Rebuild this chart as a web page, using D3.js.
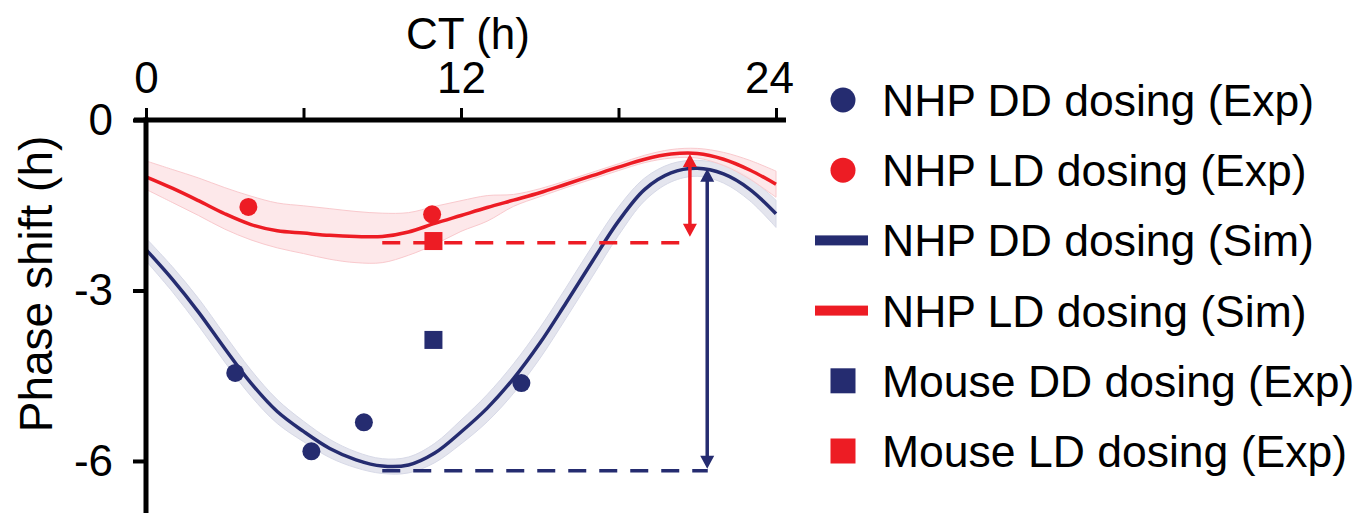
<!DOCTYPE html>
<html>
<head>
<meta charset="utf-8">
<script src="https://cdn.jsdelivr.net/npm/d3@7/dist/d3.min.js"></script>
<style>
  body { margin: 0; background: #fff; }
  text { font-family: "Liberation Sans", Arial, sans-serif; fill: #000; }
</style>
</head>
<body>
<svg width="1358" height="513"></svg>
<script>
// CT hours where the simulated curves were read off
var ctHours = [0, 1, 2, 3, 4, 5, 6, 7, 8, 9, 10, 11, 12, 13, 14, 15, 16, 17, 18, 19, 20, 21, 22, 23, 24];

// NHP DD dosing (Sim) with its band edges
var ddSim = [-2.28, -2.80, -3.38, -4.02, -4.63, -5.13, -5.48, -5.78, -5.98, -6.09, -6.07, -5.86, -5.49,
             -5.07, -4.55, -3.93, -3.22, -2.49, -1.78, -1.22, -0.93, -0.85, -0.95, -1.22, -1.65];
var ddHi  = [-2.08, -2.58, -3.14, -3.78, -4.40, -4.92, -5.30, -5.62, -5.84, -5.96, -5.93, -5.69, -5.28,
             -4.83, -4.29, -3.66, -2.95, -2.22, -1.53, -1.02, -0.77, -0.71, -0.79, -1.02, -1.41];
var ddLo  = [-2.48, -3.02, -3.62, -4.26, -4.86, -5.34, -5.66, -5.94, -6.12, -6.22, -6.21, -6.03, -5.70,
             -5.31, -4.81, -4.20, -3.49, -2.76, -2.03, -1.42, -1.09, -0.99, -1.11, -1.42, -1.89];

// NHP LD dosing (Sim) with its band edges
var ldSim = [-1.00, -1.20, -1.42, -1.65, -1.84, -1.95, -1.99, -2.03, -2.05, -2.05, -1.97, -1.82, -1.68,
             -1.54, -1.41, -1.28, -1.13, -0.98, -0.83, -0.69, -0.60, -0.59, -0.69, -0.88, -1.13];
var ldHi  = [-0.72, -0.87, -1.02, -1.19, -1.34, -1.46, -1.51, -1.56, -1.61, -1.64, -1.63, -1.52, -1.42,
             -1.33, -1.31, -1.21, -1.07, -0.92, -0.77, -0.62, -0.52, -0.50, -0.57, -0.71, -0.90];
var ldLo  = [-1.22, -1.45, -1.68, -1.92, -2.11, -2.25, -2.35, -2.45, -2.51, -2.51, -2.38, -2.19, -1.96,
             -1.78, -1.52, -1.35, -1.19, -1.04, -0.89, -0.75, -0.67, -0.67, -0.80, -1.04, -1.36];

// experiments
var nhpDD = [{ct: 3.4, shift: -4.45}, {ct: 6.3, shift: -5.83}, {ct: 8.3, shift: -5.32}, {ct: 14.3, shift: -4.63}];
var nhpLD = [{ct: 3.9, shift: -1.53}, {ct: 10.9, shift: -1.66}];
var mouseDD = [{ct: 10.95, shift: -3.87}];
var mouseLD = [{ct: 10.95, shift: -2.13}];

// amplitude marks: dashed trough level + arrow up to the peak
var ldAmp = {from: 9.0, to: 20.4, arrowAt: 20.72, peak: -0.6, trough: -2.16};
var ddAmp = {from: 9.0, to: 21.4, arrowAt: 21.38, peak: -0.86, trough: -6.17};

var xTicks = [0, 6, 12, 18, 24];
var xLabels = [0, 12, 24];
var yTicks = [0, -3, -6];

var legendLabels = ["NHP DD dosing (Exp)", "NHP LD dosing (Exp)", "NHP DD dosing (Sim)",
                    "NHP LD dosing (Sim)", "Mouse DD dosing (Exp)", "Mouse LD dosing (Exp)"];
var legendKinds = ["circle", "circle", "line", "line", "square", "square"];

var navy = "#252c70", red = "#ed1c24";
var legendColors = [navy, red, navy, red, navy, red];

var svg = d3.select("svg");

var x = d3.scaleLinear().domain([0, 24]).range([146, 776]),
    y = d3.scaleLinear().domain([0, -7]).range([120, 517.8]);

var dd = ctHours.map(function(h, i) { return {ct: h, v: ddSim[i], lo: ddLo[i], hi: ddHi[i]}; });
var ld = ctHours.map(function(h, i) { return {ct: h, v: ldSim[i], lo: ldLo[i], hi: ldHi[i]}; });

var band = d3.area()
    .curve(d3.curveCatmullRom.alpha(0.5))
    .x(function(d) { return x(d.ct); })
    .y0(function(d) { return y(d.lo); })
    .y1(function(d) { return y(d.hi); });

var line = d3.line()
    .curve(d3.curveCatmullRom.alpha(0.5))
    .x(function(d) { return x(d.ct); })
    .y(function(d) { return y(d.v); });

svg.append("path").datum(dd).attr("d", band)
    .attr("fill", "#e4e5ee").attr("stroke", "#d7d9e7").attr("stroke-width", 1);
svg.append("path").datum(ld).attr("d", band)
    .attr("fill", "#fde4e6").attr("fill-opacity", 0.85).attr("stroke", "#f9c9cd").attr("stroke-width", 1);

svg.append("path").datum(dd).attr("d", line)
    .attr("fill", "none").attr("stroke", navy).attr("stroke-width", 3.5);
svg.append("path").datum(ld).attr("d", line)
    .attr("fill", "none").attr("stroke", red).attr("stroke-width", 3.5);

// dashed trough levels
[[ldAmp, red], [ddAmp, navy]].forEach(function(p) {
  svg.append("line")
      .attr("x1", x(p[0].from)).attr("x2", x(p[0].to))
      .attr("y1", y(p[0].trough)).attr("y2", y(p[0].trough))
      .attr("stroke", p[1]).attr("stroke-width", 3.5)
      .attr("stroke-dasharray", "18 13");
});

// double arrows peak <-> trough
function arrow(a, color, bottomY) {
  var ax = x(a.arrowAt), y1 = y(a.peak), y2 = bottomY, h = 13, w = 7;
  svg.append("line")
      .attr("x1", ax).attr("x2", ax).attr("y1", y1 + h - 1).attr("y2", y2 - h + 1)
      .attr("stroke", color).attr("stroke-width", 3.5);
  svg.append("path")
      .attr("d", "M" + ax + "," + y1 + "L" + (ax - w) + "," + (y1 + h) + "L" + (ax + w) + "," + (y1 + h) + "Z" +
                 "M" + ax + "," + y2 + "L" + (ax - w) + "," + (y2 - h) + "L" + (ax + w) + "," + (y2 - h) + "Z")
      .attr("fill", color);
}
arrow(ldAmp, red, y(ldAmp.trough) - 6);
arrow(ddAmp, navy, y(ddAmp.trough) - 2);

// points
svg.selectAll("circle.dd").data(nhpDD).enter().append("circle")
    .attr("cx", function(d) { return x(d.ct); }).attr("cy", function(d) { return y(d.shift); })
    .attr("r", 9).attr("fill", navy);
svg.selectAll("circle.ld").data(nhpLD).enter().append("circle")
    .attr("cx", function(d) { return x(d.ct); }).attr("cy", function(d) { return y(d.shift); })
    .attr("r", 9).attr("fill", red);
svg.selectAll("rect.mdd").data(mouseDD).enter().append("rect")
    .attr("x", function(d) { return x(d.ct) - 9; }).attr("y", function(d) { return y(d.shift) - 9; })
    .attr("width", 18).attr("height", 18).attr("fill", navy);
svg.selectAll("rect.mld").data(mouseLD).enter().append("rect")
    .attr("x", function(d) { return x(d.ct) - 9; }).attr("y", function(d) { return y(d.shift) - 9; })
    .attr("width", 18).attr("height", 18).attr("fill", red);

// axes
var xAxis = svg.append("g")
    .attr("transform", "translate(0," + y(0) + ")")
    .call(d3.axisTop(x).tickValues(xTicks).tickSize(12).tickPadding(15)
      .tickFormat(function(d) { return xLabels.indexOf(d) >= 0 ? d : ""; }));
xAxis.select(".domain").remove();
xAxis.selectAll(".tick line").attr("stroke", "#000").attr("stroke-width", 3);
xAxis.selectAll(".tick text").attr("font-size", 44).attr("font-family", "Liberation Sans, Arial, sans-serif")
    .attr("dx", function(d) { return d == 24 ? -7 : 0; });

var yAxis = svg.append("g")
    .attr("transform", "translate(" + x(0) + ",0)")
    .call(d3.axisLeft(y).tickValues(yTicks).tickSize(13).tickPadding(20)
      .tickFormat(function(d) { return String(d); }));
yAxis.select(".domain").remove();
yAxis.selectAll(".tick line").attr("stroke", "#000").attr("stroke-width", 4);
yAxis.selectAll(".tick text").attr("font-size", 44).attr("font-family", "Liberation Sans, Arial, sans-serif");

svg.append("line")
    .attr("x1", x(0) - 12).attr("x2", x(24) + 10).attr("y1", y(0)).attr("y2", y(0))
    .attr("stroke", "#000").attr("stroke-width", 5);
svg.append("line")
    .attr("x1", x(0)).attr("x2", x(0)).attr("y1", y(0) - 2.5).attr("y2", 513)
    .attr("stroke", "#000").attr("stroke-width", 5);

svg.append("text")
    .attr("x", 468).attr("y", 49)
    .attr("text-anchor", "middle").attr("font-size", 44)
    .text("CT (h)");

svg.append("text")
    .attr("transform", "translate(52,284) rotate(-90)")
    .attr("text-anchor", "middle").attr("font-size", 46)
    .text("Phase shift (h)");

// legend
var legend = svg.selectAll("g.legend").data(legendLabels).enter().append("g")
    .attr("transform", function(d, i) { return "translate(843," + (100 + i * 70.2) + ")"; });

legend.each(function(d, i) {
  var g = d3.select(this), k = legendKinds[i], c = legendColors[i];
  if (k == "circle") g.append("circle").attr("r", 12.5).attr("fill", c);
  else if (k == "square") g.append("rect").attr("x", -12.5).attr("y", -12.5).attr("width", 25).attr("height", 25).attr("fill", c);
  else g.append("rect").attr("x", -28).attr("y", -5).attr("width", 53).attr("height", 10).attr("fill", c);
});

legend.append("text")
    .attr("x", 39).attr("dy", "0.36em")
    .attr("font-size", 44.5)
    .text(function(d) { return d; });
</script>
</body>
</html>
